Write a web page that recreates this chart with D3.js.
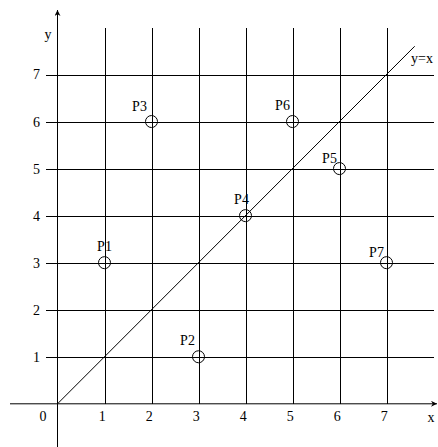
<!DOCTYPE html>
<html>
<head>
<meta charset="utf-8">
<script src="https://d3js.org/d3.v7.min.js"></script>
<style>
  body { margin: 0; background: #fff; }
  svg text { font-family: 'Liberation Serif', serif; font-size: 14px; fill: #000; }
</style>
</head>
<body>
<div id="chart"></div>
<script>
// points to plot
var pointNames = ["P1", "P2", "P3", "P4", "P5", "P6", "P7"];
var pointX = [1, 3, 2, 4, 6, 5, 7];
var pointY = [3, 1, 6, 4, 5, 6, 3];
var gridTicks = [1, 2, 3, 4, 5, 6, 7];
var diagonalEnd = 7.6;

var W = 438, H = 447;
var svg = d3.select("#chart").append("svg")
  .attr("width", W).attr("height", H)
  .attr("font-family", "Liberation Serif");

var x = d3.scaleLinear().domain([0, 7]).range([57.5, 386.5]);
var y = d3.scaleLinear().domain([0, 7]).range([403.8, 74.5]);

// horizontal grid + y labels
var yAxis = svg.append("g")
  .attr("transform", "translate(434,0)")
  .call(d3.axisLeft(y).tickValues(gridTicks).tickSize(388).tickPadding(6).tickFormat(d3.format("d")));
// vertical grid + x labels
var xAxis = svg.append("g")
  .attr("transform", "translate(0,27.5)")
  .call(d3.axisBottom(x).tickValues(gridTicks).tickSize(y(0) - 27.5).tickPadding(7).tickFormat(d3.format("d")));

[xAxis, yAxis].forEach(function (g) {
  g.attr("font-family", null).attr("font-size", null);
  g.select(".domain").remove();
  g.selectAll("line").attr("stroke", "#000").attr("stroke-width", 1).attr("shape-rendering", "crispEdges");
});
xAxis.selectAll("text").attr("dx", "-0.2em");

// main axes with arrows
svg.append("defs").append("marker")
  .attr("id", "arrow").attr("viewBox", "0 0 10 10")
  .attr("refX", 10).attr("refY", 5)
  .attr("markerWidth", 10).attr("markerHeight", 6)
  .attr("markerUnits", "userSpaceOnUse")
  .attr("orient", "auto")
  .append("path").attr("d", "M0,0 L10,5 L0,10 L3,5 Z").attr("fill", "#000");

svg.append("line")
  .attr("x1", 10).attr("x2", 437).attr("y1", y(0)).attr("y2", y(0))
  .attr("stroke", "#000").attr("marker-end", "url(#arrow)");
svg.append("line")
  .attr("x1", x(0)).attr("x2", x(0)).attr("y1", H).attr("y2", 10)
  .attr("stroke", "#000").attr("marker-end", "url(#arrow)");

svg.append("text").attr("x", 43).attr("y", 421).attr("text-anchor", "middle").text("0");
svg.append("text").attr("x", 431).attr("y", 422).attr("text-anchor", "middle").text("x");
svg.append("text").attr("x", 48).attr("y", 39).attr("text-anchor", "middle").text("y");

// y = x line
svg.append("line")
  .attr("x1", x(0)).attr("y1", y(0))
  .attr("x2", x(diagonalEnd)).attr("y2", y(diagonalEnd))
  .attr("stroke", "#000").attr("stroke-width", 1);
svg.append("text").attr("x", 411).attr("y", 63).text("y=x");

// points
var pts = pointNames.map(function (n, i) { return { name: n, x: pointX[i], y: pointY[i] }; });
var labelShift = { P1: [0, -12], P2: [-11, -12], P3: [-12, -11], P4: [-4, -12], P5: [-10, -6], P6: [-10, -12], P7: [-10, -6] };

svg.selectAll("circle.pt").data(pts).enter().append("circle")
  .attr("class", "pt")
  .attr("cx", function (d) { return x(d.x); })
  .attr("cy", function (d) { return y(d.y); })
  .attr("r", 6)
  .attr("fill", "none").attr("stroke", "#000").attr("stroke-width", 1);

svg.selectAll("text.pl").data(pts).enter().append("text")
  .attr("class", "pl")
  .attr("text-anchor", "middle")
  .attr("x", function (d) { return x(d.x) + labelShift[d.name][0]; })
  .attr("y", function (d) { return y(d.y) + labelShift[d.name][1]; })
  .text(function (d) { return d.name; });
</script>
</body>
</html>
